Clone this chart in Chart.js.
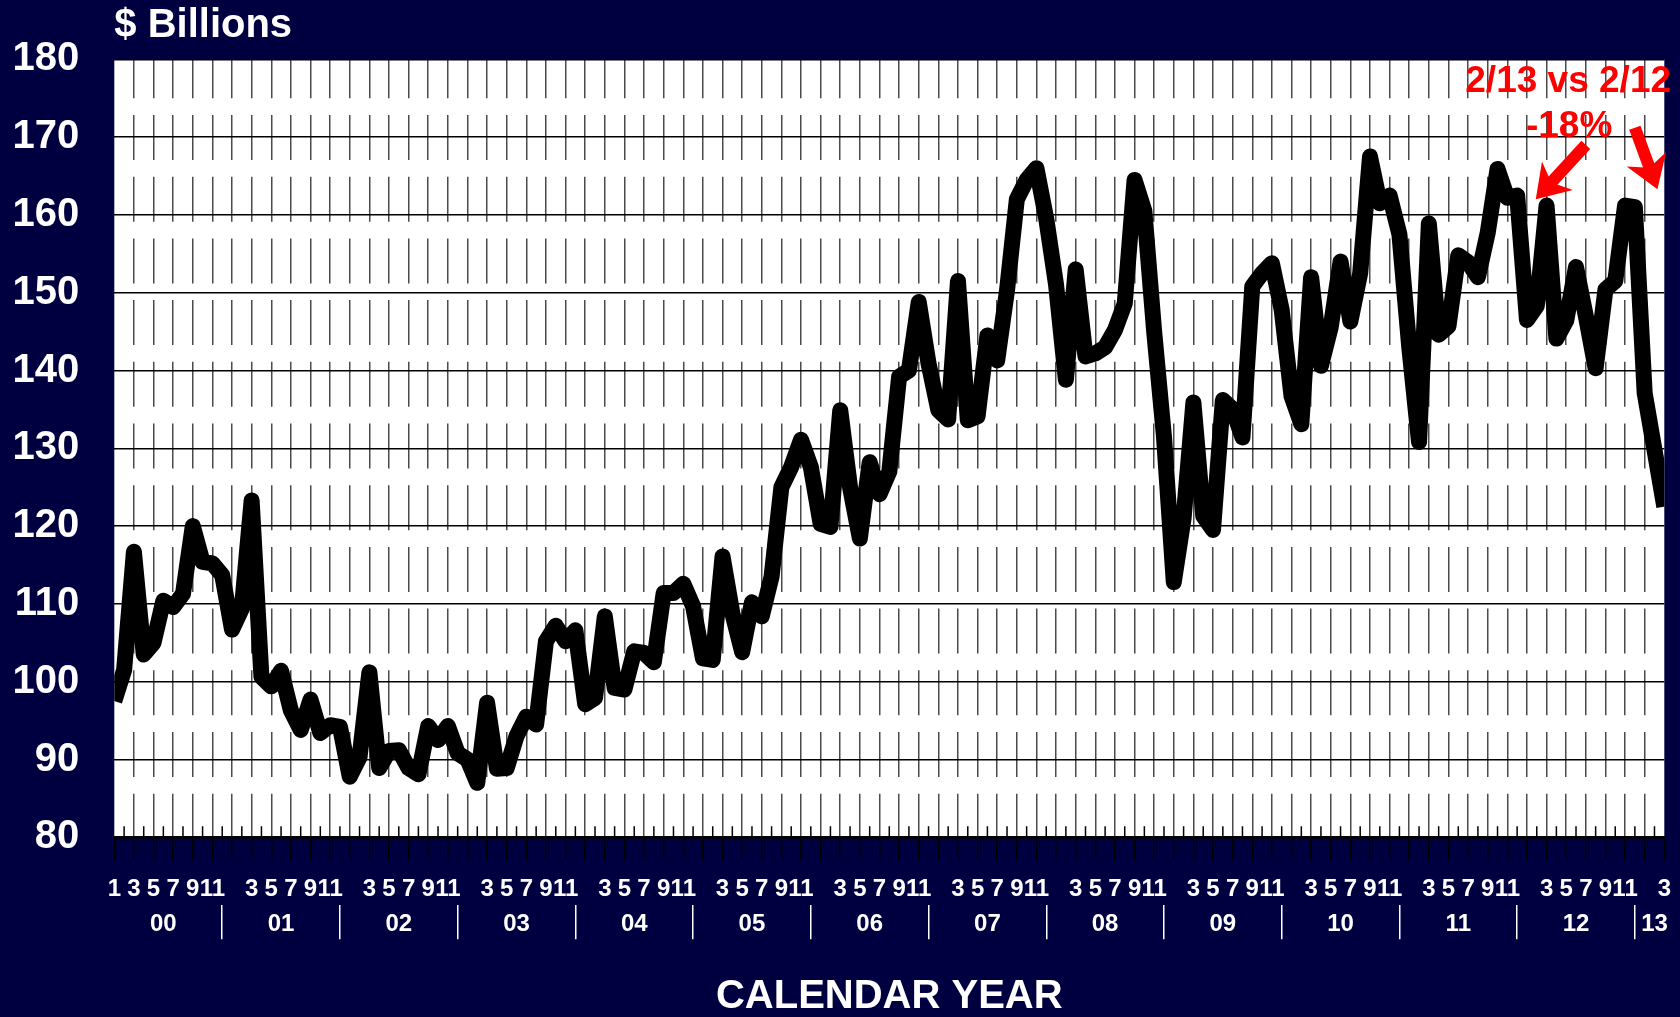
<!DOCTYPE html>
<html>
<head>
<meta charset="utf-8">
<title>$ Billions</title>
<script src="https://cdn.jsdelivr.net/npm/chart.js@4.4.1/dist/chart.umd.min.js"></script>
<style>
  html, body { margin: 0; padding: 0; background: #000040; }
  canvas { display: block; }
</style>
</head>
<body>
<canvas id="myChart" width="1680" height="1017"></canvas>
<script>
// ---- data ----
const years = ['00', '01', '02', '03', '04', '05', '06', '07', '08', '09', '10', '11', '12', '13'];
const monthTicks = ['1', '3', '5', '7', '9', '11'];
const lastMonth = 3; // series ends March 2013

// monthly values, $ billions, Jan 2000 .. Mar 2013
const sales = [
  97.5, 101.5, 116.7, 103.5, 105.0, 110.4, 109.6, 111.3, 120.0, 115.4, 115.2, 113.7,   // 2000
  106.7, 109.4, 123.3, 100.6, 99.4, 101.4, 96.3, 93.8, 97.7, 93.4, 94.4, 94.2,          // 2001
  87.8, 90.3, 101.2, 88.9, 91.1, 91.2, 88.9, 88.1, 94.3, 92.5, 94.3, 90.8,              // 2002
  90.0, 87.0, 97.3, 88.8, 88.9, 93.0, 95.5, 94.5, 105.2, 107.2, 105.2, 106.6,           // 2003
  97.1, 97.9, 108.4, 99.2, 99.0, 103.9, 103.7, 102.5, 111.4, 111.4, 112.6, 109.7,       // 2004
  103.0, 102.8, 116.1, 108.8, 103.8, 110.2, 108.4, 113.5, 125.0, 127.6, 131.1, 127.6,   // 2005
  120.3, 119.9, 134.9, 125.0, 118.4, 128.2, 124.1, 127.0, 139.2, 140.0, 148.8, 140.9,   // 2006
  134.9, 133.7, 151.5, 133.6, 134.1, 144.5, 141.3, 150.3, 162.0, 164.5, 166.0, 159.5,   // 2007
  151.0, 138.8, 153.0, 141.8, 142.2, 143.0, 145.2, 148.6, 164.5, 160.5, 145.0, 131.5,   // 2008
  112.8, 121.0, 135.9, 121.3, 119.5, 136.2, 135.0, 131.4, 150.8, 152.5, 153.8, 147.8,   // 2009
  136.7, 133.1, 152.0, 140.6, 145.6, 154.0, 146.3, 152.5, 167.5, 161.5, 162.5, 157.5,   // 2010
  143.0, 130.8, 158.9, 144.6, 145.7, 154.8, 153.9, 152.0, 157.7, 165.9, 162.2, 162.5,   // 2011
  146.5, 148.3, 161.2, 144.1, 146.4, 153.3, 147.0, 140.3, 150.4, 151.5, 161.2, 161.0,   // 2012
  137.1, 129.8, 122.5                                                                   // 2013
];

// one category per month
const months = [];
years.forEach((yy, y) => {
  for (let m = 1; m <= 12; m++) {
    if (y === years.length - 1 && m > lastMonth) break;
    months.push(m + '/' + yy);
  }
});

const FONT = '"Liberation Sans", Arial, Helvetica, sans-serif';
const NAVY = '#000040';

// red call-out, placed in data coordinates (category index, $ billions)
const callout = {
  lines: [
    { text: '2/13 vs 2/12', at: [148.2, 177.1] },
    { text: '-18%', at: [148.3, 171.3] }
  ],
  arrows: [
    { from: [150.0, 169.0], to: [144.9, 162.0] },
    { from: [155.0, 171.2], to: [157.3, 163.3] }
  ]
};

// ---- plugins ----
const backdrop = {
  id: 'backdrop',
  beforeDraw(chart) {
    const { ctx, chartArea: a } = chart;
    ctx.save();
    ctx.fillStyle = NAVY;
    ctx.fillRect(0, 0, chart.width, chart.height);
    ctx.fillStyle = '#ffffff';
    ctx.fillRect(a.left, a.top, a.right - a.left, a.bottom - a.top);
    ctx.restore();
  }
};

const decorations = {
  id: 'decorations',
  afterDraw(chart) {
    const { ctx, chartArea: a } = chart;
    const xs = chart.scales.x, ys = chart.scales.y;
    ctx.save();

    // minor ticks (even months) inside the plot
    ctx.strokeStyle = '#000';
    ctx.lineWidth = 1.5;
    ctx.beginPath();
    for (let i = 1; i < months.length; i += 2) {
      const px = xs.getPixelForValue(i);
      ctx.moveTo(px, a.bottom);
      ctx.lineTo(px, a.bottom - 11);
    }
    ctx.stroke();

    // axis caption
    ctx.fillStyle = '#fff';
    ctx.font = 'bold 40px ' + FONT;
    ctx.textAlign = 'left';
    ctx.textBaseline = 'alphabetic';
    ctx.fillText('$ Billions', a.left, 37);

    // call-out text
    ctx.fillStyle = '#ff0000';
    ctx.font = 'bold 37px ' + FONT;
    ctx.textAlign = 'center';
    ctx.textBaseline = 'middle';
    callout.lines.forEach(l => {
      ctx.fillText(l.text, xs.getPixelForValue(l.at[0]), ys.getPixelForValue(l.at[1]));
    });

    // call-out arrows
    ctx.strokeStyle = '#ff0000';
    callout.arrows.forEach(ar => {
      const x1 = xs.getPixelForValue(ar.from[0]), y1 = ys.getPixelForValue(ar.from[1]);
      const x2 = xs.getPixelForValue(ar.to[0]), y2 = ys.getPixelForValue(ar.to[1]);
      const ang = Math.atan2(y2 - y1, x2 - x1);
      const head = 26, half = 21;
      const bx = x2 - head * Math.cos(ang), by = y2 - head * Math.sin(ang);
      ctx.lineWidth = 12;
      ctx.lineCap = 'butt';
      ctx.beginPath();
      ctx.moveTo(x1, y1);
      ctx.lineTo(bx + 4 * Math.cos(ang), by + 4 * Math.sin(ang));
      ctx.stroke();
      ctx.beginPath();
      ctx.moveTo(x2, y2);
      ctx.lineTo(bx - 6 * Math.cos(ang) + half * Math.sin(ang), by - 6 * Math.sin(ang) - half * Math.cos(ang));
      ctx.lineTo(bx + 3 * Math.cos(ang), by + 3 * Math.sin(ang));
      ctx.lineTo(bx - 6 * Math.cos(ang) - half * Math.sin(ang), by - 6 * Math.sin(ang) + half * Math.cos(ang));
      ctx.closePath();
      ctx.fill();
    });

    ctx.restore();
  }
};

// ---- chart ----
const ctx = document.getElementById('myChart').getContext('2d');

const config = {
  type: 'line',
  data: {
    labels: months,
    datasets: [{
      label: 'Monthly value',
      data: sales,
      borderColor: '#000',
      borderWidth: 16,
      borderJoinStyle: 'round',
      pointRadius: 0,
      tension: 0,
      clip: 0
    }]
  },
  options: {
    responsive: false,
    animation: false,
    devicePixelRatio: 1,
    layout: { padding: { top: 59.3, right: 15.7, left: 0, bottom: 0 } },
    plugins: {
      legend: { display: false },
      tooltip: { enabled: false }
    },
    scales: {
      x: {
        position: 'bottom',
        weight: 1,
        offset: false,
        grid: {
          color: c => (c.index % 2 === 0 && c.index > 0 && c.index < months.length - 1) ? '#4a4a4a' : 'transparent',
          tickColor: c => (c.index % 2 === 0) ? '#000' : 'transparent',
          lineWidth: 1.5,
          tickWidth: 1.5,
          tickLength: 23
        },
        border: { display: true, color: '#000', width: 2.5, dash: [45, 16.7], dashOffset: 6 },
        ticks: {
          autoSkip: false,
          maxRotation: 0,
          minRotation: 0,
          padding: 15,
          color: '#fff',
          font: { family: FONT, size: 24, weight: 'bold' },
          callback: (value, index) => {
            const m = String(index % 12 + 1);
            if (!monthTicks.includes(m)) return '';
            if (m === '1' && index > 0) return '';
            return m;
          }
        },
        afterFit: s => { s.height = 68; s.paddingLeft = 0; s.paddingRight = 0; }
      },
      x2: {
        type: 'category',
        position: 'bottom',
        weight: 2,
        offset: false,
        grid: {
          drawOnChartArea: false,
          color: c => (c.index % 12 === 11) ? '#fff' : 'transparent',
          lineWidth: 1.5,
          tickLength: 34
        },
        border: { display: false },
        ticks: {
          autoSkip: false,
          maxRotation: 0,
          minRotation: 0,
          padding: -29,
          color: '#fff',
          font: { family: FONT, size: 24, weight: 'bold' },
          callback: (value, index) => {
            const y = Math.floor(index / 12), m = index % 12 + 1;
            const mid = (y === years.length - 1) ? 2 : 6;
            return m === mid ? years[y] : '';
          }
        },
        title: {
          display: true,
          text: 'CALENDAR YEAR',
          color: '#fff',
          padding: 0,
          font: { family: FONT, size: 40, weight: 'bold', lineHeight: 1 }
        },
        afterFit: s => { s.height = 111.7; s.paddingLeft = 0; s.paddingRight = 0; }
      },
      y: {
        min: 80,
        max: 180,
        grid: { color: '#000', lineWidth: 1.5, drawTicks: false },
        border: { display: false },
        ticks: {
          stepSize: 10,
          padding: 35,
          color: '#fff',
          font: { family: FONT, size: 40, weight: 'bold' }
        },
        afterFit: s => { s.width = 114.3; s.paddingTop = 0; s.paddingBottom = 0; }
      }
    }
  },
  plugins: [backdrop, decorations]
};

const myChart = new Chart(ctx, config);
</script>
</body>
</html>
